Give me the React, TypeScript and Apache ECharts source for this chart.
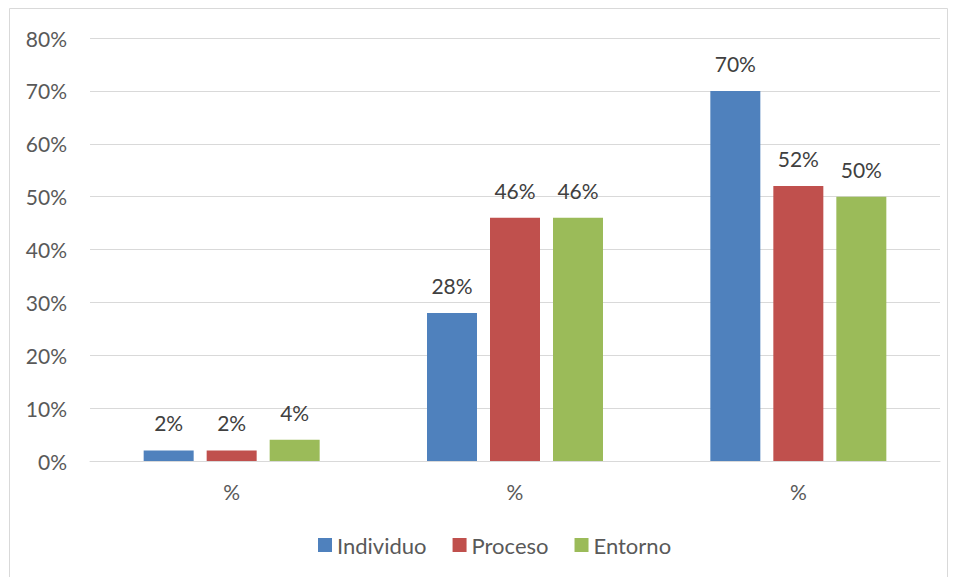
import React, { useEffect, useRef } from "react";
import * as echarts from "echarts";

const categories = ["%", "%", "%"];
const individuo = [0.02, 0.28, 0.7];
const proceso = [0.02, 0.46, 0.52];
const entorno = [0.04, 0.46, 0.5];
const seriesNames = ["Individuo", "Proceso", "Entorno"];
const colors = ["#4F81BD", "#C0504D", "#9BBB59"];

const FONT = "Lato, 'Open Sans', sans-serif";

export default function App() {
  const ref = useRef<HTMLDivElement>(null);
  useEffect(() => {
    document.body.style.margin = "0";
    const chart = echarts.init(ref.current!, null, { renderer: "svg" });
    const pct = (v: number) => Math.round(v * 100) + "%";
    const mk = (name: string, data: number[], color: string) => ({
      name,
      type: "bar",
      data,
      barWidth: 50,
      barGap: "26%",
      itemStyle: { color },
      label: {
        show: true,
        position: "top",
        distance: 17,
        color: "#404040",
        fontSize: 21,
        fontFamily: FONT,
        formatter: (p: any) => pct(p.value),
      },
    });
    chart.setOption({
      animation: false,
      color: colors,
      graphic: [
        {
          type: "rect",
          shape: { x: 9.5, y: 8.5, width: 938, height: 600 },
          style: { fill: "none", stroke: "#D9D9D9", lineWidth: 1 },
          silent: true,
        },
      ],
      grid: { left: 90, right: 18, top: 38, bottom: 116 },
      xAxis: {
        type: "category",
        data: categories,
        axisLine: { show: true, lineStyle: { color: "#D9D9D9", width: 1 } },
        axisTick: { show: false },
        axisLabel: { color: "#595959", fontSize: 21, fontFamily: FONT, margin: 20 },
      },
      yAxis: {
        type: "value",
        min: 0,
        max: 0.8,
        interval: 0.1,
        axisLine: { show: false },
        axisTick: { show: false },
        splitLine: { lineStyle: { color: "#D9D9D9", width: 1 } },
        axisLabel: {
          color: "#595959",
          fontSize: 21,
          fontFamily: FONT,
          margin: 23,
          formatter: (v: number) => pct(v),
        },
      },
      legend: {
        data: seriesNames,
        top: 529,
        left: 313,
        itemWidth: 14,
        itemHeight: 14,
        itemGap: 26,
        icon: "rect",
        textStyle: { color: "#595959", fontSize: 22, fontFamily: FONT },
      },
      series: [
        mk(seriesNames[0], individuo, colors[0]),
        mk(seriesNames[1], proceso, colors[1]),
        mk(seriesNames[2], entorno, colors[2]),
      ],
    });
    return () => chart.dispose();
  }, []);
  return <div ref={ref} style={{ width: 958, height: 577 }} />;
}
